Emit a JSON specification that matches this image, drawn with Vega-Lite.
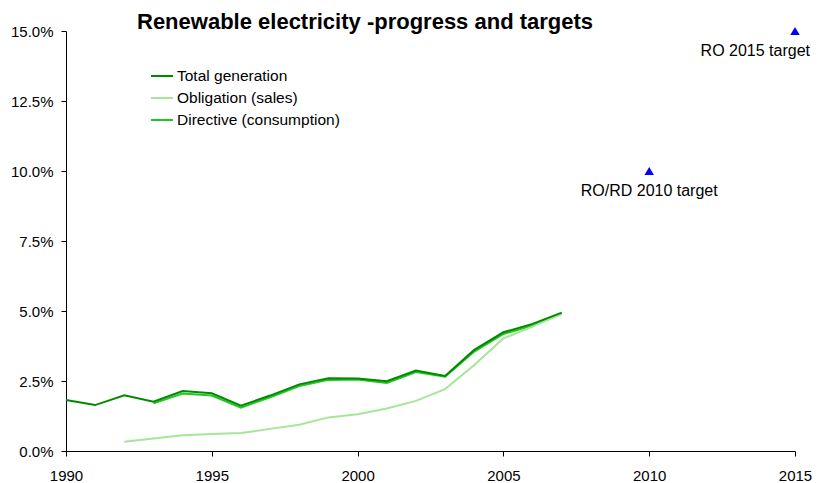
{
  "$schema": "https://vega.github.io/schema/vega-lite/v6.json",
  "width": 729,
  "height": 420,
  "autosize": {"type": "none"},
  "padding": {"left": 66, "top": 31, "right": 32, "bottom": 32},
  "background": "white",
  "config": {
    "font": "Liberation Sans",
    "view": {"stroke": null},
    "axis": {"labelFont": "Liberation Sans", "labelFontSize": 15, "labelColor": "black", "domainColor": "black", "tickColor": "black", "grid": false, "title": null}
  },
  "title": {"text": "Renewable electricity -progress and targets", "anchor": "start", "frame": "group", "dx": 71, "dy": 13, "fontSize": 22, "font": "Liberation Sans", "fontWeight": "bold", "color": "black", "offset": 3},
  "datasets": {
    "series": [
      {"year": 1993, "value": 0.0170, "series": "Directive (consumption)"},
      {"year": 1994, "value": 0.0205, "series": "Directive (consumption)"},
      {"year": 1995, "value": 0.0198, "series": "Directive (consumption)"},
      {"year": 1996, "value": 0.0155, "series": "Directive (consumption)"},
      {"year": 1997, "value": 0.0192, "series": "Directive (consumption)"},
      {"year": 1998, "value": 0.0232, "series": "Directive (consumption)"},
      {"year": 1999, "value": 0.0254, "series": "Directive (consumption)"},
      {"year": 2000, "value": 0.0255, "series": "Directive (consumption)"},
      {"year": 2001, "value": 0.0243, "series": "Directive (consumption)"},
      {"year": 2002, "value": 0.0282, "series": "Directive (consumption)"},
      {"year": 2003, "value": 0.0265, "series": "Directive (consumption)"},
      {"year": 2004, "value": 0.0355, "series": "Directive (consumption)"},
      {"year": 2005, "value": 0.0418, "series": "Directive (consumption)"},
      {"year": 2006, "value": 0.0448, "series": "Directive (consumption)"},
      {"year": 2007, "value": 0.0490, "series": "Directive (consumption)"},
      {"year": 1992, "value": 0.0033, "series": "Obligation (sales)"},
      {"year": 1993, "value": 0.0045, "series": "Obligation (sales)"},
      {"year": 1994, "value": 0.0056, "series": "Obligation (sales)"},
      {"year": 1995, "value": 0.0061, "series": "Obligation (sales)"},
      {"year": 1996, "value": 0.0064, "series": "Obligation (sales)"},
      {"year": 1997, "value": 0.0079, "series": "Obligation (sales)"},
      {"year": 1998, "value": 0.0094, "series": "Obligation (sales)"},
      {"year": 1999, "value": 0.0120, "series": "Obligation (sales)"},
      {"year": 2000, "value": 0.0131, "series": "Obligation (sales)"},
      {"year": 2001, "value": 0.0152, "series": "Obligation (sales)"},
      {"year": 2002, "value": 0.0179, "series": "Obligation (sales)"},
      {"year": 2003, "value": 0.0221, "series": "Obligation (sales)"},
      {"year": 2004, "value": 0.0307, "series": "Obligation (sales)"},
      {"year": 2005, "value": 0.0402, "series": "Obligation (sales)"},
      {"year": 2006, "value": 0.0444, "series": "Obligation (sales)"},
      {"year": 2007, "value": 0.0490, "series": "Obligation (sales)"},
      {"year": 1990, "value": 0.0182, "series": "Total generation"},
      {"year": 1991, "value": 0.0164, "series": "Total generation"},
      {"year": 1992, "value": 0.0199, "series": "Total generation"},
      {"year": 1993, "value": 0.0176, "series": "Total generation"},
      {"year": 1994, "value": 0.0214, "series": "Total generation"},
      {"year": 1995, "value": 0.0206, "series": "Total generation"},
      {"year": 1996, "value": 0.0162, "series": "Total generation"},
      {"year": 1997, "value": 0.0198, "series": "Total generation"},
      {"year": 1998, "value": 0.0238, "series": "Total generation"},
      {"year": 1999, "value": 0.0260, "series": "Total generation"},
      {"year": 2000, "value": 0.0259, "series": "Total generation"},
      {"year": 2001, "value": 0.0249, "series": "Total generation"},
      {"year": 2002, "value": 0.0287, "series": "Total generation"},
      {"year": 2003, "value": 0.0268, "series": "Total generation"},
      {"year": 2004, "value": 0.0361, "series": "Total generation"},
      {"year": 2005, "value": 0.0424, "series": "Total generation"},
      {"year": 2006, "value": 0.0454, "series": "Total generation"},
      {"year": 2007, "value": 0.0494, "series": "Total generation"}
    ],
    "targets": [
      {"year": 2010, "value": 0.10, "label": "RO/RD 2010 target"},
      {"year": 2015, "value": 0.15, "label": "RO 2015 target"}
    ]
  },
  "layer": [
    {
      "data": {"name": "series"},
      "mark": {"type": "line", "strokeWidth": 2, "clip": false},
      "encoding": {
        "x": {"field": "year", "type": "quantitative", "scale": {"domain": [1990, 2015], "nice": false, "zero": false}, "axis": {"values": [1990, 1995, 2000, 2005, 2010, 2015], "format": "d", "tickSize": 5, "labelPadding": 12, "labelFlush": false}},
        "y": {"field": "value", "type": "quantitative", "scale": {"domain": [0, 0.15], "nice": false}, "axis": {"values": [0, 0.025, 0.05, 0.075, 0.1, 0.125, 0.15], "format": ".1%", "tickSize": 5, "labelPadding": 8}},
        "color": {
          "field": "series", "type": "nominal",
          "scale": {"domain": ["Total generation", "Obligation (sales)", "Directive (consumption)"], "range": ["#008a00", "#a6e59a", "#22c622"]},
          "legend": {"orient": "none", "legendX": 84, "legendY": 33, "title": null, "symbolType": "stroke", "symbolSize": 484, "symbolStrokeWidth": 2, "labelFontSize": 15.5, "labelFont": "Liberation Sans", "labelColor": "black", "labelLimit": 400, "rowPadding": 1, "labelOffset": 3}
        }
      }
    },
    {
      "data": {"name": "targets"},
      "mark": {"type": "point", "shape": "triangle-up", "filled": true, "color": "#0000ff", "size": 90, "opacity": 1, "clip": false},
      "encoding": {
        "x": {"field": "year", "type": "quantitative"},
        "y": {"field": "value", "type": "quantitative"}
      }
    },
    {
      "data": {"name": "targets"},
      "transform": [{"filter": "datum.year == 2010"}],
      "mark": {"type": "text", "fontSize": 16, "font": "Liberation Sans", "color": "black", "dy": 20, "align": "center"},
      "encoding": {
        "x": {"field": "year", "type": "quantitative"},
        "y": {"field": "value", "type": "quantitative"},
        "text": {"field": "label"}
      }
    },
    {
      "data": {"name": "targets"},
      "transform": [{"filter": "datum.year == 2015"}],
      "mark": {"type": "text", "fontSize": 16, "font": "Liberation Sans", "color": "black", "dy": 20, "dx": 15, "align": "right"},
      "encoding": {
        "x": {"field": "year", "type": "quantitative"},
        "y": {"field": "value", "type": "quantitative"},
        "text": {"field": "label"}
      }
    }
  ]
}
